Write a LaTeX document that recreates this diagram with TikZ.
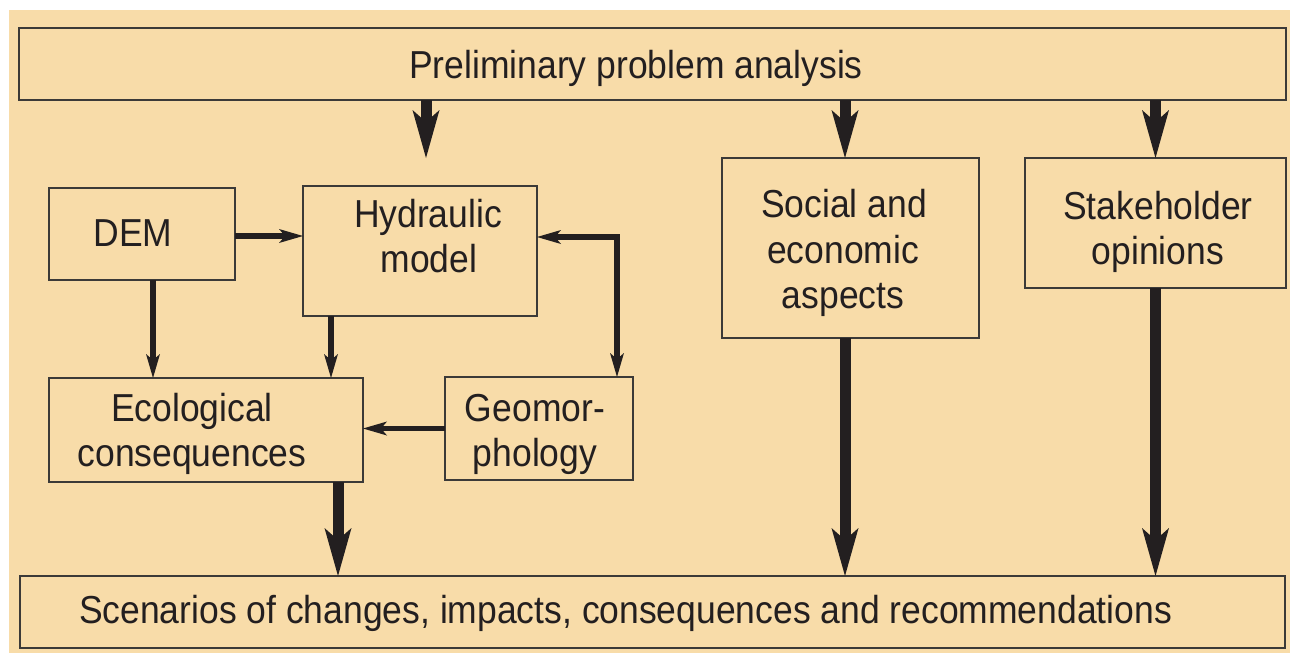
\documentclass[tikz,border=0pt]{standalone}
\usepackage{fontspec}
\setmainfont{Liberation Sans}[FakeStretch=0.91]
\usetikzlibrary{arrows.meta,calc}
\definecolor{bgtan}{HTML}{F8DCA9}
\definecolor{ink}{HTML}{231F20}
\definecolor{boxline}{HTML}{3C3A38}
\begin{document}
\begin{tikzpicture}[x=1pt,y=-1pt,
  box/.style={draw=boxline, line width=1.3pt, rectangle, inner sep=0pt, outer sep=0pt},
  txt/.style={anchor=base, inner sep=0pt, text=ink, font=\fontsize{39pt}{45.5pt}\selectfont},
  bigarrow/.style={draw=ink, line width=11pt, -{Stealth[length=48pt,width=27pt,inset=12pt,line width=0pt]}},
  medarrow/.style={draw=ink, line width=5.5pt, -{Stealth[length=24pt,width=14pt,inset=6pt,line width=0pt]}},
  dblarrow/.style={draw=ink, line width=5.5pt, line join=miter, {Stealth[length=24pt,width=14pt,inset=6pt,line width=0pt]}-{Stealth[length=24pt,width=14pt,inset=6pt,line width=0pt]}}
]
\useasboundingbox (0,0) rectangle (1290,653);
\fill[bgtan] (9,10) rectangle (1290,653);

% boxes
\node[box, minimum width=1267pt, minimum height=72pt] (top) at (652.5,64) {};
\node[box, minimum width=186pt, minimum height=92pt] (dem) at (142,234) {};
\node[box, minimum width=234pt, minimum height=130pt] (hyd) at (420,251) {};
\node[box, minimum width=257pt, minimum height=180pt] (soc) at (850.5,248) {};
\node[box, minimum width=261pt, minimum height=130pt] (stk) at (1155.5,223) {};
\node[box, minimum width=314pt, minimum height=104pt] (eco) at (206,430) {};
\node[box, minimum width=188pt, minimum height=103pt] (geo) at (539,428.5) {};
\node[box, minimum width=1265pt, minimum height=72pt] (bot) at (652.5,612) {};

% texts
\node[txt] (ttop) at (636,78) {Preliminary problem analysis};
\node[txt] (tdem) at (133,246) {DEM};
\node[txt] (thyd1) at (428,227) {Hydraulic};
\node[txt] (thyd2) at (429,272) {model};
\node[txt] (tsoc1) at (844,217) {Social and};
\node[txt] (tsoc2) at (843,263) {economic};
\node[txt] (tsoc3) at (843,308) {aspects};
\node[txt] (tstk1) at (1158,219) {Stakeholder};
\node[txt] (tstk2) at (1158,264) {opinions};
\node[txt] (teco1) at (192,421) {Ecological};
\node[txt] (teco2) at (192,466) {consequences};
\node[txt] (tgeo1) at (535,421) {Geomor-};
\node[txt] (tgeo2) at (535,466) {phology};
\node[txt] (tbot) at (625.5,623) {Scenarios of changes, impacts, consequences and recommendations};

% connectors
\coordinate (hydin) at (426,158);
\draw[bigarrow] (top.south -| hydin) -- (hydin);
\draw[bigarrow] ([xshift=-5.5pt]soc.north |- top.south) -- ([xshift=-5.5pt]soc.north);
\draw[bigarrow] (stk.north |- top.south) -- (stk.north);

\draw[medarrow] ([yshift=-2pt]dem.east) -- ([yshift=-2pt]dem.east -| hyd.west);
\draw[medarrow] ([xshift=11pt]dem.south) -- ([xshift=11pt]dem.south |- eco.north);
\draw[medarrow] ([xshift=-89pt]hyd.south) -- ([xshift=-89pt]hyd.south |- eco.north);
\draw[medarrow] (geo.west) -- (geo.west -| eco.east);
\draw[dblarrow] ([xshift=78pt]geo.north) |- ([yshift=14pt]hyd.east);

\draw[bigarrow] ([xshift=132pt]eco.south) -- ([xshift=132pt]eco.south |- bot.north);
\draw[bigarrow] ([xshift=-5.5pt]soc.south) -- ([xshift=-5.5pt]soc.south |- bot.north);
\draw[bigarrow] (stk.south) -- (stk.south |- bot.north);
\end{tikzpicture}
\end{document}
